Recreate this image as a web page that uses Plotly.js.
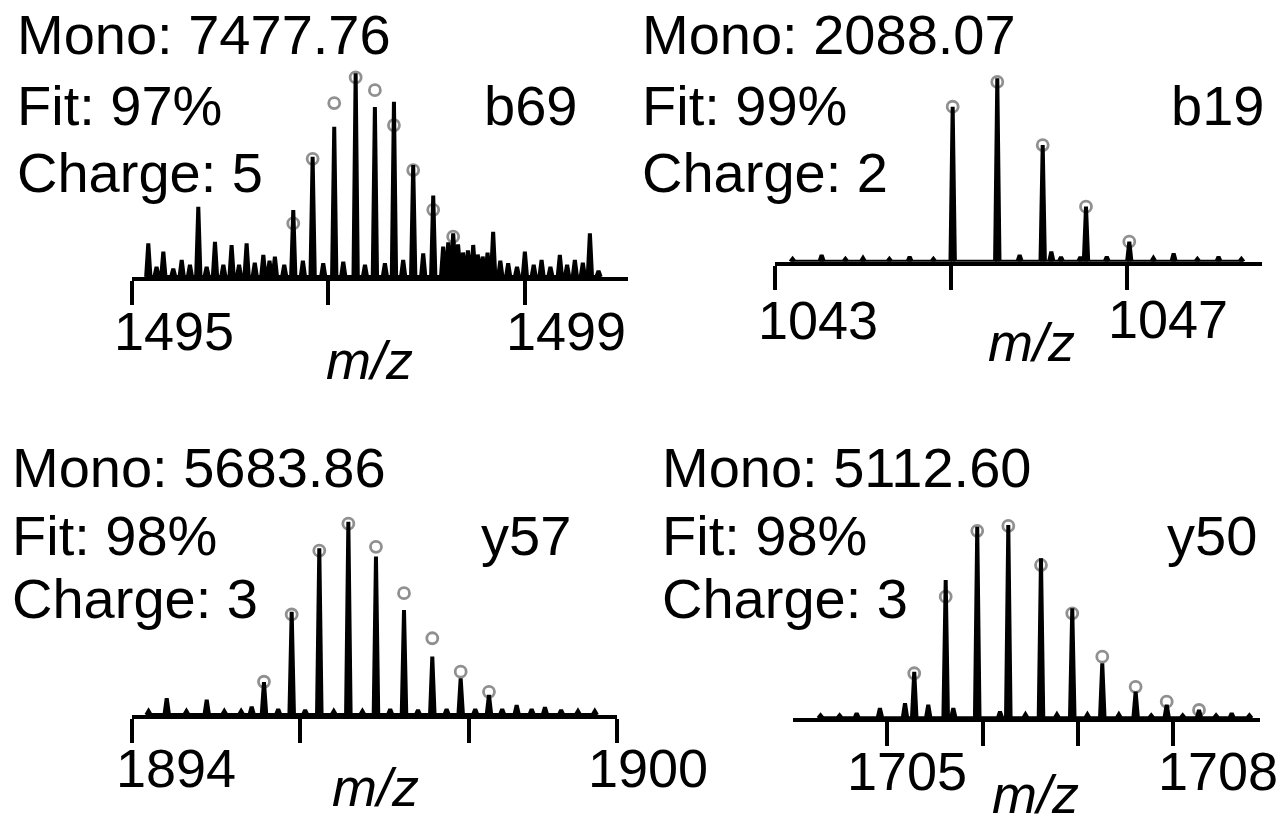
<!DOCTYPE html>
<html>
<head>
<meta charset="utf-8">
<script src="https://cdn.plot.ly/plotly-3.0.1.min.js"></script>
<style>html,body{margin:0;padding:0;background:#fff;}#chart{width:1285px;height:825px;}</style>
</head>
<body>
<div id="chart"></div>
<script>
// ---------------- DATA ----------------
// Panel 1: b69
const b69_mz  = [1495.166,1495.25,1495.319,1495.42,1495.506,1495.59,1495.675,1495.76,1495.845,1495.93,1496.014,1496.09,1496.167,1496.25,1496.337,1496.40,1496.455,1496.55,
                 1496.642,1496.74,1496.839,1496.947,1497.059,1497.151,1497.277,1497.372,1497.473,1497.575,1497.667,1497.761,1497.863,1497.965,1498.067,1498.168,1498.22,1498.270,1498.32,
                 1498.37,1498.42,1498.474,1498.52,1498.57,1498.62,1498.677,1498.75,1498.830,1498.92,1499.0,1499.09,1499.170,1499.26,1499.356,1499.43,1499.509,1499.59,1499.662,1499.75];
const b69_int = [16.5,5,12.4,4,8.3,6,34.5,5,17.3,6,15.7,6,16.5,7,10.8,8,10,6,
                 32.8,8,59,6.7,73.7,7.5,100,5.9,83.5,6.7,86,8.3,55,11.6,40,14.9,17,21.4,16,
                 12,13,15.7,11,10,12,22.2,8,6.7,5,12.4,6,8.3,5,10.8,6,8.3,7,21.4,3];
const b69_fit_mz  = [1496.642,1496.839,1497.059,1497.277,1497.473,1497.667,1497.863,1498.067,1498.270];
const b69_fit_int = [26.3,58,85.4,98,91.7,74.5,52.5,33,19.8];
const b69_ticks = [1495,1497,1499];
const b69_labels = ['1495','1499'];
const b69_info = ['Mono: 7477.76','Fit: 97%','Charge: 5','b69'];

// Panel 2: b19
const b19_mz  = [1043.2,1043.53,1043.8,1044.0,1044.3,1044.53,1044.8,1045.019,1045.526,1045.78,1046.042,1046.14,1046.25,1046.47,1046.534,1046.77,1047.026,1047.3,1047.53,1047.8,1048.04,1048.3];
const b19_int = [1.5,3.6,1.5,2,1.5,2.7,1.5,84.5,100,3.6,63.6,5.5,2.5,2.5,30,2.7,10.9,2,4.5,1.5,2.7,1.5];
const b19_fit_mz  = [1045.019,1045.526,1046.042,1046.534,1047.026];
const b19_fit_int = [84.5,98,63.6,30,10.9];
const b19_ticks = [1043,1045,1047];
const b19_labels = ['1043','1047'];
const b19_info = ['Mono: 2088.07','Fit: 99%','Charge: 2','b19'];

// Panel 3: y57
const y57_mz  = [1894.2,1894.416,1894.65,1894.891,1895.1,1895.3,1895.425,1895.571,1895.74,1895.900,1896.06,1896.228,1896.4,1896.573,1896.74,1896.901,1897.07,1897.234,1897.4,1897.570,1897.74,1897.907,1898.08,1898.243,1898.4,1898.572,1898.75,1898.908,1899.1,1899.3,1899.5];
const y57_int = [2,8.6,2,7.8,2,2,4.3,17,3,53.4,2.5,86.2,2,100,2,82,3,54.3,2.5,30.2,3,19,3,10.3,3,5,3,4,2.5,2,2];
const y57_fit_mz  = [1895.571,1895.900,1896.228,1896.573,1896.901,1897.234,1897.570,1897.907,1898.243];
const y57_fit_int = [17.2,52,85,99,87,63,39.7,22.4,12];
const y57_ticks = [1894,1896,1898];
const y57_labels = ['1894','1900'];
const y57_info = ['Mono: 5683.86','Fit: 98%','Charge: 3','y57'];

// Panel 4: y50
const y50_mz  = [1704.3,1704.5,1704.679,1704.923,1705.186,1705.283,1705.43,1705.613,1705.693,1705.944,1706.183,1706.270,1706.45,1706.613,1706.78,1706.941,1707.1,1707.256,1707.43,1707.606,1707.77,1707.932,1708.1,1708.271,1708.45,1708.614,1708.8];
const y50_int = [1.5,1.5,2.6,5.2,7.8,24,6.9,71.5,5.2,99.1,3.4,100,2,82.8,2,56.9,2,28.5,2,13.8,1.5,6.9,1.5,4.3,1.5,2.6,1.5];
const y50_fit_mz  = [1705.283,1705.613,1705.944,1706.270,1706.613,1706.941,1707.256,1707.606,1707.932,1708.271];
const y50_fit_int = [23.3,62.9,97,99.5,79.3,54.3,31.9,16.3,8.6,4.3];
const y50_ticks = [1705,1706,1707,1708];
const y50_labels = ['1705','1708'];
const y50_info = ['Mono: 5112.60','Fit: 98%','Charge: 3','y50'];

// ---------------- LAYOUT HELPERS ----------------
const W = 1285, H = 825;
const PX = x => x / W;
const PY = y => 1 - y / H;
const FONT = 'Arial, "Liberation Sans", Helvetica, sans-serif';
const INK = '#000000';
const YMAX = 106;

const panels = [
  {mz:b69_mz, it:b69_int, fmz:b69_fit_mz, fit:b69_fit_int, ticks:b69_ticks, labels:b69_labels, info:b69_info,
   xr:[1495,1500.05], xpx:[132,628], base:277, top:73.3, hw:0.022, endTick:false,
   labelPx:[[174,331],[566,331]], mzPx:[370,360], infoLeft:15, infoRight:579, infoY:[34,106,172], tagY:106},
  {mz:b19_mz, it:b19_int, fmz:b19_fit_mz, fit:b19_fit_int, ticks:b19_ticks, labels:b19_labels, info:b19_info,
   xr:[1043,1048.534], xpx:[775,1262], base:261.7, top:78.3, hw:0.025, endTick:false,
   labelPx:[[818,320],[1168,319]], mzPx:[1031,342], infoLeft:640, infoRight:1266, infoY:[34,106,172], tagY:106},
  {mz:y57_mz, it:y57_int, fmz:y57_fit_mz, fit:y57_fit_int, ticks:y57_ticks, labels:y57_labels, info:y57_info,
   xr:[1894,1899.76], xpx:[131.7,616.7], base:715, top:521.7, hw:0.027, endTick:true,
   labelPx:[[176,768],[648,768]], mzPx:[375,787], infoLeft:10, infoRight:573, infoY:[467,535,598], tagY:535},
  {mz:y50_mz, it:y50_int, fmz:y50_fit_mz, fit:y50_fit_int, ticks:y50_ticks, labels:y50_labels, info:y50_info,
   xr:[1704.014,1708.911], xpx:[793.3,1260], base:718.3, top:525, hw:0.024, endTick:false,
   labelPx:[[907,771],[1218,771]], mzPx:[1035,794], infoLeft:660, infoRight:1259, infoY:[467,535,598], tagY:535}
];

// build stick-profile polyline from a peak list
function profile(mz, it, hw) {
  const idx = mz.map((_, i) => i).sort((a, b) => mz[a] - mz[b]);
  const xs = [], ys = [];
  idx.forEach(i => { xs.push(mz[i] - hw, mz[i], mz[i] + hw); ys.push(0, it[i], 0); });
  return {xs, ys};
}

const traces = [];
const layout = {
  width: W, height: H,
  margin: {l:0, r:0, t:0, b:0},
  paper_bgcolor: '#ffffff', plot_bgcolor: 'rgba(0,0,0,0)',
  showlegend: false,
  annotations: []
};

panels.forEach((p, k) => {
  const n = k + 1;
  const xa = 'x' + (n === 1 ? '' : n), ya = 'y' + (n === 1 ? '' : n);
  const topPx = p.base - (p.base - p.top) * YMAX / 100;
  const tv = p.endTick ? p.ticks.concat([p.xr[1]]) : p.ticks.slice();
  layout['xaxis' + (n === 1 ? '' : n)] = {
    domain: [PX(p.xpx[0]), PX(p.xpx[1])], range: p.xr, anchor: ya,
    showline: true, linecolor: INK, linewidth: 4,
    ticks: 'outside', ticklen: 24, tickwidth: 4, tickcolor: INK,
    tickmode: 'array', tickvals: tv, showticklabels: false,
    showgrid: false, zeroline: false, fixedrange: true
  };
  layout['yaxis' + (n === 1 ? '' : n)] = {
    domain: [PY(p.base), PY(topPx)], range: [0, YMAX], anchor: xa,
    visible: false, showgrid: false, zeroline: false, fixedrange: true
  };
  // theoretical isotope markers (beneath the spectrum)
  traces.push({
    type: 'scatter', mode: 'markers', x: p.fmz, y: p.fit, xaxis: xa, yaxis: ya,
    marker: {symbol: 'circle', size: 11, color: '#ffffff', line: {color: '#909090', width: 2.8}},
    cliponaxis: false, hoverinfo: 'skip'
  });
  // experimental spectrum
  const pr = profile(p.mz, p.it, p.hw);
  traces.push({
    type: 'scatter', mode: 'lines', x: pr.xs, y: pr.ys, xaxis: xa, yaxis: ya,
    line: {color: INK, width: 4, shape: 'linear'}, fill: 'tozeroy', fillcolor: INK,
    hoverinfo: 'skip'
  });
  // tick labels
  p.labels.forEach((t, j) => {
    layout.annotations.push({xref:'paper', yref:'paper', x: PX(p.labelPx[j][0]), y: PY(p.labelPx[j][1]),
      xanchor:'center', yanchor:'middle', text: t, showarrow:false, font:{family:FONT, size:54, color:INK}});
  });
  layout.annotations.push({xref:'paper', yref:'paper', x: PX(p.mzPx[0]), y: PY(p.mzPx[1]),
    xanchor:'center', yanchor:'middle', text:'<i>m/z</i>', showarrow:false, font:{family:FONT, size:54, color:INK}});
  // info texts
  for (let j = 0; j < 3; j++) {
    layout.annotations.push({xref:'paper', yref:'paper', x: PX(p.infoLeft), y: PY(p.infoY[j]),
      xanchor:'left', yanchor:'middle', text: p.info[j], showarrow:false, font:{family:FONT, size:56, color:INK}});
  }
  layout.annotations.push({xref:'paper', yref:'paper', x: PX(p.infoRight), y: PY(p.tagY),
    xanchor:'right', yanchor:'middle', text: p.info[3], showarrow:false, font:{family:FONT, size:56, color:INK}});
});

Plotly.newPlot('chart', traces, layout, {displayModeBar:false, staticPlot:true});
</script>
</body>
</html>
